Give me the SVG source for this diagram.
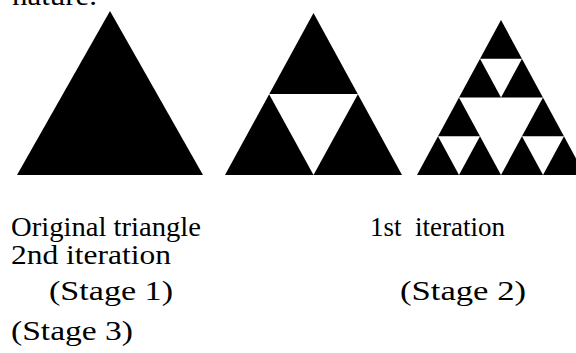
<svg xmlns="http://www.w3.org/2000/svg" width="576" height="353" viewBox="0 0 576 353">
  <style>
    .solid { fill: #000; }
    .hole { fill: #fff; }
    text { font-family: 'Liberation Serif', 'DejaVu Serif', serif; font-size: 27px; fill: #000; }
  </style>
  <rect width="576" height="353" fill="#fff"/>

  <!-- tail of the preceding sentence -->
  <text x="12" y="5" textLength="85" lengthAdjust="spacingAndGlyphs">nature.</text>

  <!-- Stage 1: solid triangle -->
  <g id="stage1">
    <polygon class="solid" points="110,11 203,175 17,175"/>
  </g>

  <!-- Stage 2: one hole -->
  <g id="stage2">
    <polygon class="solid" points="313.5,13 402,175 225,175"/>
    <polygon class="hole" points="269,94 358,94 313.5,175"/>
  </g>

  <!-- Stage 3: four holes -->
  <g id="stage3">
    <polygon class="solid" points="501,20 585,175 417,175"/>
    <polygon class="hole" points="459,97.5 543,97.5 501,175"/>
    <polygon class="hole" points="480,58.75 522,58.75 501,97.5"/>
    <polygon class="hole" points="438,136.25 480,136.25 459,175"/>
    <polygon class="hole" points="522,136.25 564,136.25 543,175"/>
  </g>

  <!-- captions -->
  <g id="captions" font-family="Liberation Serif, DejaVu Serif, serif">
    <text x="11" y="236" textLength="190" lengthAdjust="spacingAndGlyphs">Original triangle</text>
    <text x="370" y="236" xml:space="preserve" textLength="135" lengthAdjust="spacingAndGlyphs">1st  iteration</text>
    <text x="11" y="264" textLength="160" lengthAdjust="spacingAndGlyphs">2nd iteration</text>
    <text x="49" y="300" textLength="124" lengthAdjust="spacingAndGlyphs">(Stage 1)</text>
    <text x="400" y="300" textLength="126" lengthAdjust="spacingAndGlyphs">(Stage 2)</text>
    <text x="11" y="340" textLength="122" lengthAdjust="spacingAndGlyphs">(Stage 3)</text>
  </g>
</svg>
